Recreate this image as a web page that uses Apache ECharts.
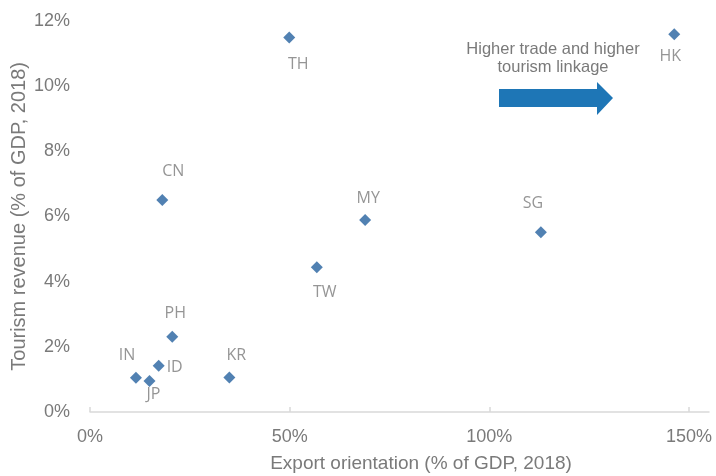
<!DOCTYPE html>
<html>
<head>
<meta charset="utf-8">
<script src="https://cdn.jsdelivr.net/npm/echarts@6/dist/echarts.min.js"></script>
<style>
  html, body { margin: 0; padding: 0; background: #ffffff; }
  #chart { width: 716px; height: 476px; }
</style>
</head>
<body>
<div id="chart"></div>
<script>
// Economies and their coordinates (export orientation %, tourism revenue %)
const economies = ['TH', 'HK', 'CN', 'MY', 'TW', 'SG', 'PH', 'KR', 'ID', 'IN', 'JP'];
const exportShare = [49.9, 146.3, 18.1, 68.9, 56.8, 112.9, 20.6, 34.9, 17.2, 11.5, 14.9];
const tourismShare = [11.49, 11.59, 6.50, 5.89, 4.44, 5.51, 2.31, 1.06, 1.42, 1.05, 0.95];
const xTicks = [0, 50, 100, 150];
const yTicks = [0, 2, 4, 6, 8, 10, 12];

// Where each economy's code sits relative to its marker (px)
const labelOffsets = {
  TH: [9, 27], HK: [-4, 22], CN: [11, -29], MY: [3, -22], TW: [8, 25],
  SG: [-8, -29], PH: [3, -23], KR: [7, -22], ID: [16, 2], IN: [-9, -22], JP: [4, 13]
};

const grey = '#7a7a7a';
const markerBlue = '#25619f';
const arrowBlue = '#1e76b6';

const points = economies.map((code, i) => ({
  name: code,
  value: [exportShare[i], tourismShare[i]],
  label: { offset: labelOffsets[code] }
}));

const chart = echarts.init(document.getElementById('chart'), null, { renderer: 'canvas' });

chart.setOption({
  animation: false,
  backgroundColor: '#ffffff',
  grid: { left: 90, right: 7, top: 20.8, bottom: 64, containLabel: false, outerBoundsMode: 'none' },
  xAxis: {
    type: 'value',
    min: 0,
    max: 155,
    interval: 50,
    name: 'Export orientation (% of GDP, 2018)',
    nameLocation: 'middle',
    nameGap: 42,
    nameMoveOverlap: false,
    nameTextStyle: {
      color: grey, fontFamily: 'Liberation Sans', fontSize: 19,
      verticalAlign: 'top', padding: [0, 0, 0, 43]
    },
    axisLine: { show: true, lineStyle: { color: '#d9d9d9', width: 1.5 } },
    axisTick: { show: true, inside: true, length: 5, customValues: xTicks,
      lineStyle: { color: '#d9d9d9', width: 1.5 } },
    axisLabel: {
      customValues: xTicks,
      color: grey, fontFamily: 'Liberation Sans', fontSize: 18, margin: 16,
      formatter: v => v + '%'
    },
    splitLine: { show: false }
  },
  yAxis: {
    type: 'value',
    min: 0,
    max: 12,
    interval: 2,
    name: 'Tourism revenue (% of GDP, 2018)',
    nameLocation: 'middle',
    nameGap: 61,
    nameMoveOverlap: false,
    nameTextStyle: { color: grey, fontFamily: 'Liberation Sans', fontSize: 20 },
    axisLine: { show: false },
    axisTick: { show: false },
    axisLabel: {
      customValues: yTicks,
      color: grey, fontFamily: 'Liberation Sans', fontSize: 18, margin: 20,
      formatter: v => v + '%'
    },
    splitLine: { show: false }
  },
  series: [{
    type: 'scatter',
    symbol: 'diamond',
    symbolSize: 12,
    itemStyle: { color: markerBlue },
    label: {
      show: true,
      position: 'inside',
      align: 'center',
      verticalAlign: 'middle',
      color: grey,
      fontFamily: 'Open Sans',
      fontSize: 16,
      formatter: p => p.name
    },
    data: points
  }],
  graphic: [
    {
      type: 'text',
      x: 553, y: 40,
      style: {
        text: 'Higher trade and higher\ntourism linkage',
        align: 'center',
        verticalAlign: 'top',
        fill: grey,
        font: '16.5px "Liberation Sans"',
        lineHeight: 18
      }
    },
    {
      type: 'polygon',
      shape: {
        points: [[499, 89], [597, 89], [597, 82], [613, 98], [597, 115], [597, 107], [499, 107]]
      },
      style: { fill: arrowBlue }
    }
  ]
});
</script>
</body>
</html>
